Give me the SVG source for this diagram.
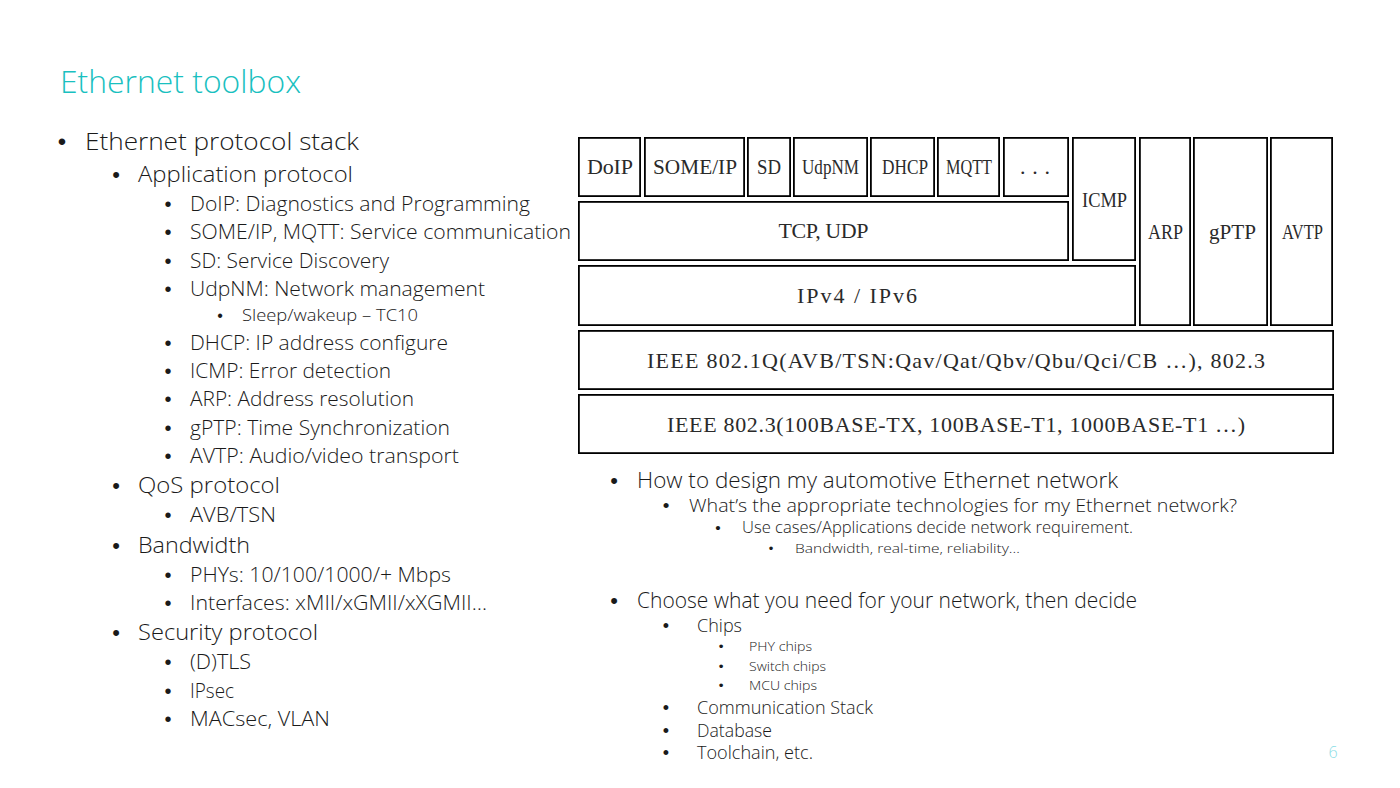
<svg xmlns="http://www.w3.org/2000/svg" width="1400" height="788" viewBox="0 0 1400 788">
<style>
.bg{fill:#ffffff}
.box{fill:#ffffff;stroke:#000000;stroke-width:1.8}
.bt{font-family:"Liberation Serif","Noto Sans CJK SC",serif;font-size:22px;fill:#2a2a2a;text-anchor:middle}
.title{font-family:"Open Sans","Noto Sans",sans-serif;font-weight:300;font-size:32px;fill:#19C0C0}
.t{font-family:"Open Sans","Noto Sans",sans-serif;font-weight:300;fill:#1a1a1a}
.b{font-family:"Liberation Sans",sans-serif;fill:#1a1a1a;text-anchor:middle}
.l1{font-size:24px}.l2{font-size:22px}.l3{font-size:20px}.l4{font-size:16px}
.r1{font-size:22px}.r2{font-size:19px}.r3{font-size:15.5px}.r4{font-size:13px}.rc{font-size:18px}.rs{font-size:13.5px}
.pg{font-family:"Open Sans","Noto Sans",sans-serif;font-weight:300;font-size:16px;fill:#8ADDE6;text-anchor:middle}
</style>
<rect class="bg" x="0" y="0" width="1400" height="788"/>
<text class="title" x="60" y="93" textLength="241" lengthAdjust="spacingAndGlyphs">Ethernet toolbox</text>

<g id="left-list">
<text class="b l1" x="62" y="150">•</text><text class="t l1" x="85" y="150" textLength="274" lengthAdjust="spacingAndGlyphs">Ethernet protocol stack</text>
<text class="b l2" x="116" y="182">•</text><text class="t l2" x="138" y="182" textLength="215" lengthAdjust="spacingAndGlyphs">Application protocol</text>
<text class="b l3" x="168" y="211">•</text><text class="t l3" x="190" y="211" textLength="340" lengthAdjust="spacingAndGlyphs">DoIP: Diagnostics and Programming</text>
<text class="b l3" x="168" y="239">•</text><text class="t l3" x="190" y="239" textLength="381" lengthAdjust="spacingAndGlyphs">SOME/IP, MQTT: Service communication</text>
<text class="b l3" x="168" y="268">•</text><text class="t l3" x="190" y="268" textLength="199" lengthAdjust="spacingAndGlyphs">SD: Service Discovery</text>
<text class="b l3" x="168" y="296">•</text><text class="t l3" x="190" y="296" textLength="295" lengthAdjust="spacingAndGlyphs">UdpNM: Network management</text>
<text class="b l4" x="220" y="321">•</text><text class="t l4" x="242" y="321" textLength="176" lengthAdjust="spacingAndGlyphs">Sleep/wakeup – TC10</text>
<text class="b l3" x="168" y="350">•</text><text class="t l3" x="190" y="350" textLength="258" lengthAdjust="spacingAndGlyphs">DHCP: IP address configure</text>
<text class="b l3" x="168" y="378">•</text><text class="t l3" x="190" y="378" textLength="201" lengthAdjust="spacingAndGlyphs">ICMP: Error detection</text>
<text class="b l3" x="168" y="406">•</text><text class="t l3" x="190" y="406" textLength="224" lengthAdjust="spacingAndGlyphs">ARP: Address resolution</text>
<text class="b l3" x="168" y="435">•</text><text class="t l3" x="190" y="435" textLength="260" lengthAdjust="spacingAndGlyphs">gPTP: Time Synchronization</text>
<text class="b l3" x="168" y="463">•</text><text class="t l3" x="190" y="463" textLength="269" lengthAdjust="spacingAndGlyphs">AVTP: Audio/video transport</text>
<text class="b l2" x="116" y="493">•</text><text class="t l2" x="138" y="493" textLength="142" lengthAdjust="spacingAndGlyphs">QoS protocol</text>
<text class="b l3" x="168" y="522">•</text><text class="t l3" x="190" y="522" textLength="86" lengthAdjust="spacingAndGlyphs">AVB/TSN</text>
<text class="b l2" x="116" y="553">•</text><text class="t l2" x="138" y="553" textLength="112" lengthAdjust="spacingAndGlyphs">Bandwidth</text>
<text class="b l3" x="168" y="582">•</text><text class="t l3" x="190" y="582" textLength="261" lengthAdjust="spacingAndGlyphs">PHYs: 10/100/1000/+ Mbps</text>
<text class="b l3" x="168" y="610">•</text><text class="t l3" x="190" y="610" textLength="297" lengthAdjust="spacingAndGlyphs">Interfaces: xMII/xGMII/xXGMII…</text>
<text class="b l2" x="116" y="640">•</text><text class="t l2" x="138" y="640" textLength="180" lengthAdjust="spacingAndGlyphs">Security protocol</text>
<text class="b l3" x="168" y="669">•</text><text class="t l3" x="190" y="669" textLength="61" lengthAdjust="spacingAndGlyphs">(D)TLS</text>
<text class="b l3" x="168" y="698">•</text><text class="t l3" x="190" y="698" textLength="44" lengthAdjust="spacingAndGlyphs">IPsec</text>
<text class="b l3" x="168" y="726">•</text><text class="t l3" x="190" y="726" textLength="140" lengthAdjust="spacingAndGlyphs">MACsec, VLAN</text>
</g>

<g id="stack">
<g id="doip"><rect class="box" x="578.9" y="137.9" width="61.2" height="58.2"/><text class="bt" x="610" y="174" textLength="46" lengthAdjust="spacing">DoIP</text></g>
<g id="someip"><rect class="box" x="644.9" y="137.9" width="99.2" height="58.2"/><text class="bt" x="695" y="174" textLength="84" lengthAdjust="spacingAndGlyphs">SOME/IP</text></g>
<g id="sd"><rect class="box" x="747.9" y="137.9" width="42.2" height="58.2"/><text class="bt" x="769" y="174" textLength="24" lengthAdjust="spacingAndGlyphs">SD</text></g>
<g id="udpnm"><rect class="box" x="793.9" y="137.9" width="73.2" height="58.2"/><text class="bt" x="830.5" y="174" textLength="57" lengthAdjust="spacingAndGlyphs">UdpNM</text></g>
<g id="dhcp"><rect class="box" x="870.9" y="137.9" width="63.2" height="58.2"/><text class="bt" x="905" y="174" textLength="46" lengthAdjust="spacingAndGlyphs">DHCP</text></g>
<g id="mqtt"><rect class="box" x="937.9" y="137.9" width="61.2" height="58.2"/><text class="bt" x="969" y="174" textLength="46" lengthAdjust="spacingAndGlyphs">MQTT</text></g>
<g id="more"><rect class="box" x="1003.9" y="137.9" width="64.2" height="58.2"/><text class="bt" x="1035" y="174" textLength="30" lengthAdjust="spacing">...</text></g>
<g id="icmp"><rect class="box" x="1072.9" y="137.9" width="62.2" height="122.2"/><text class="bt" x="1104.5" y="207" textLength="45" lengthAdjust="spacingAndGlyphs">ICMP</text></g>
<g id="arp"><rect class="box" x="1139.9" y="137.9" width="50.2" height="187.2"/><text class="bt" x="1165.5" y="239" textLength="35" lengthAdjust="spacingAndGlyphs">ARP</text></g>
<g id="gptp"><rect class="box" x="1193.9" y="137.9" width="73.2" height="187.2"/><text class="bt" x="1232.5" y="239" textLength="47" lengthAdjust="spacingAndGlyphs">gPTP</text></g>
<g id="avtp"><rect class="box" x="1270.9" y="137.9" width="61.2" height="187.2"/><text class="bt" x="1302.5" y="239" textLength="41" lengthAdjust="spacingAndGlyphs">AVTP</text></g>
<g id="tcpudp"><rect class="box" x="578.9" y="201.9" width="489.2" height="58.2"/><text class="bt" x="823.5" y="238" textLength="90" lengthAdjust="spacing">TCP,  UDP</text></g>
<g id="ip"><rect class="box" x="578.9" y="265.9" width="556.2" height="59.2"/><text class="bt" x="857" y="303" textLength="120" lengthAdjust="spacing">IPv4 / IPv6</text></g>
<g id="ieee8021q"><rect class="box" x="578.9" y="330.9" width="754.2" height="58.2"/><text class="bt" x="956" y="368" textLength="618" lengthAdjust="spacing">IEEE 802.1Q(AVB/TSN:Qav/Qat/Qbv/Qbu/Qci/CB …), 802.3</text></g>
<g id="ieee8023"><rect class="box" x="578.9" y="394.9" width="754.2" height="58.2"/><text class="bt" x="956" y="432" textLength="578" lengthAdjust="spacing">IEEE 802.3(100BASE-TX, 100BASE-T1, 1000BASE-T1 …)</text></g>
</g>

<g id="connectors"></g>

<g id="right-list">
<text class="b r1" x="614" y="488">•</text><text class="t r1" x="637" y="488" textLength="481" lengthAdjust="spacingAndGlyphs">How to design my automotive Ethernet network</text>
<text class="b r2" x="666" y="512">•</text><text class="t r2" x="689" y="512" textLength="548" lengthAdjust="spacingAndGlyphs">What’s the appropriate technologies for my Ethernet network?</text>
<text class="b r3" x="718" y="533">•</text><text class="t r3" x="742" y="533" textLength="391" lengthAdjust="spacingAndGlyphs">Use cases/Applications decide network requirement.</text>
<text class="b r4" x="771" y="553">•</text><text class="t r4" x="795" y="553" textLength="225" lengthAdjust="spacingAndGlyphs">Bandwidth, real-time, reliability…</text>
<text class="b r1" x="614" y="608">•</text><text class="t r1" x="637" y="608" textLength="500" lengthAdjust="spacingAndGlyphs">Choose what you need for your network, then decide</text>
<text class="b rc" x="666" y="632">•</text><text class="t rc" x="697" y="632" textLength="45" lengthAdjust="spacingAndGlyphs">Chips</text>
<text class="b rs" x="721" y="651">•</text><text class="t rs" x="749" y="651" textLength="63" lengthAdjust="spacingAndGlyphs">PHY chips</text>
<text class="b rs" x="721" y="671">•</text><text class="t rs" x="749" y="671" textLength="77" lengthAdjust="spacingAndGlyphs">Switch chips</text>
<text class="b rs" x="721" y="690">•</text><text class="t rs" x="749" y="690" textLength="68" lengthAdjust="spacingAndGlyphs">MCU chips</text>
<text class="b rc" x="666" y="714">•</text><text class="t rc" x="697" y="714" textLength="176" lengthAdjust="spacingAndGlyphs">Communication Stack</text>
<text class="b rc" x="666" y="737">•</text><text class="t rc" x="697" y="737" textLength="75" lengthAdjust="spacingAndGlyphs">Database</text>
<text class="b rc" x="666" y="759">•</text><text class="t rc" x="697" y="759" textLength="116" lengthAdjust="spacingAndGlyphs">Toolchain, etc.</text>
</g>

<text class="pg" x="1333" y="758">6</text>
</svg>
